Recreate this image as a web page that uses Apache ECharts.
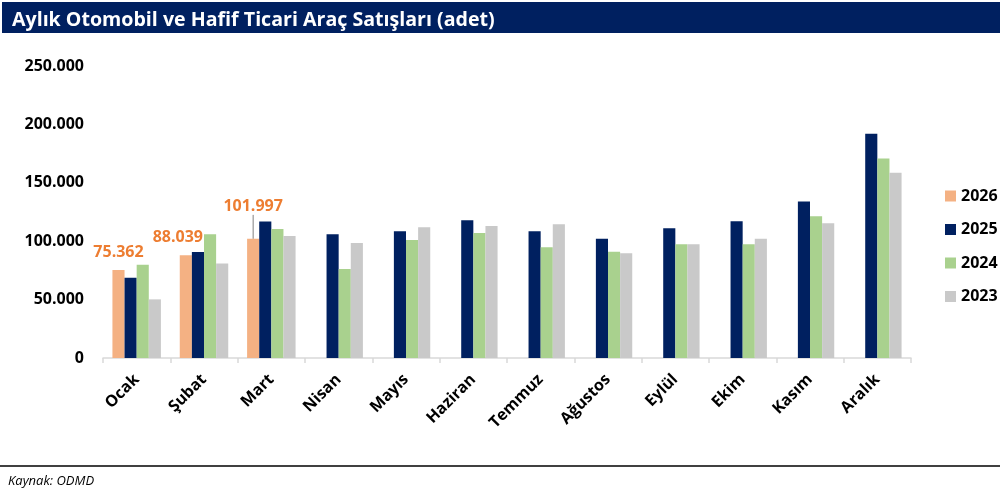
<!DOCTYPE html>
<html>
<head>
<meta charset="utf-8">
<script src="https://cdn.jsdelivr.net/npm/echarts@6/dist/echarts.min.js"></script>
<style>
  html, body { margin: 0; padding: 0; background: #fff; }
  #chart { width: 1007px; height: 494px; }
</style>
</head>
<body>
<div id="chart"></div>
<script>
// months
const months = ["Ocak", "Şubat", "Mart", "Nisan", "Mayıs", "Haziran", "Temmuz", "Ağustos", "Eylül", "Ekim", "Kasım", "Aralık"];

// monthly sales (adet)
const sales2026 = [75362, 88039, 101997, null, null, null, null, null, null, null, null, null];
const sales2025 = [68800, 90700, 116800, 105900, 108500, 117900, 108500, 102100, 111000, 117000, 134000, 192000];
const sales2024 = [79900, 105900, 110500, 76200, 101000, 107000, 94800, 91000, 97300, 97300, 121300, 170700];
const sales2023 = [50200, 81000, 104500, 98500, 112000, 113000, 114500, 89600, 97300, 102100, 115300, 158700];

const yTicks = [0, 50000, 100000, 150000, 200000, 250000];

const fontFam = "'Open Sans', 'Noto Sans', sans-serif";

function fmt(v) {
	if (v === 0) return "0";
	return String(v).replace(/\B(?=(\d{3})+(?!\d))/g, ".");
}

// label nudges for the 2026 values, only Mart gets a leader line
const labelShift = [
	{ dx: 0, dy: -5, line: false },
	{ dx: -8, dy: -5, line: false },
	{ dx: 0, dy: -19, line: true }
];

let data2026 = sales2026.map((v, i) => {
	let s = labelShift[i];
	if (!s) return v;
	return { value: v, labelLine: { show: s.line } };
});

let chart = echarts.init(document.getElementById("chart"));

let option = {
	animation: false,
	textStyle: { fontFamily: fontFam },
	title: {
		text: "Aylık Otomobil ve Hafif Ticari Araç Satışları (adet)",
		left: 7,
		top: 5,
		textStyle: {
			color: "#ffffff",
			fontSize: 19.6,
			fontWeight: "bold",
			fontFamily: fontFam
		}
	},
	graphic: [
		{
			type: "rect",
			z: -1,
			shape: { x: 2, y: 2, width: 998, height: 31 },
			style: { fill: "#002060" }
		},
		{
			type: "line",
			shape: { x1: 0, y1: 466, x2: 1000, y2: 466 },
			style: { stroke: "#000000", lineWidth: 1.5 }
		},
		{
			type: "text",
			left: 8,
			top: 475,
			style: {
				text: "Kaynak: ODMD",
				fill: "#000000",
				font: "italic 13px " + fontFam
			}
		}
	],
	legend: {
		orient: "vertical",
		left: 940,
		top: 183,
		itemWidth: 11,
		itemHeight: 11,
		itemGap: 17.5,
		icon: "rect",
		data: ["2026", "2025", "2024", "2023"],
		textStyle: {
			fontSize: 16,
			fontWeight: "bold",
			color: "#000000",
			fontFamily: fontFam
		}
	},
	grid: {
		left: 103,
		right: 96,
		top: 66,
		bottom: 136,
		containLabel: false
	},
	xAxis: {
		type: "category",
		data: months,
		axisLine: { lineStyle: { color: "#d9d9d9", width: 1.5 } },
		axisTick: { show: true, length: 5, lineStyle: { color: "#d9d9d9", width: 1.5 } },
		axisLabel: {
			rotate: 45,
			margin: 19,
			fontSize: 16,
			fontWeight: "bold",
			color: "#000000",
			interval: 0
		}
	},
	yAxis: {
		type: "value",
		min: yTicks[0],
		max: yTicks[yTicks.length - 1],
		interval: yTicks[1] - yTicks[0],
		splitLine: { show: false },
		axisLine: { show: false },
		axisTick: { show: false },
		axisLabel: {
			margin: 19,
			fontSize: 16,
			fontWeight: "bold",
			color: "#000000",
			formatter: fmt
		}
	},
	series: [
		{
			name: "2026",
			type: "bar",
			data: data2026,
			barGap: "0%",
			barCategoryGap: "28%",
			itemStyle: { color: "#F4B183" },
			label: {
				show: true,
				position: "top",
				color: "#ED7D31",
				fontSize: 16,
				fontWeight: "bold",
				formatter: p => fmt(p.value)
			},
			labelLine: { show: true, lineStyle: { color: "#808080", width: 1 } },
			labelLayout: function(params) {
				let s = labelShift[params.dataIndex];
				if (!s) return {};
				return { dx: s.dx, dy: s.dy };
			}
		},
		{
			name: "2025",
			type: "bar",
			data: sales2025,
			itemStyle: { color: "#002060" }
		},
		{
			name: "2024",
			type: "bar",
			data: sales2024,
			itemStyle: { color: "#A9D18E" }
		},
		{
			name: "2023",
			type: "bar",
			data: sales2023,
			itemStyle: { color: "#C9C9C9" }
		}
	]
};

chart.setOption(option, true);
</script>
</body>
</html>
